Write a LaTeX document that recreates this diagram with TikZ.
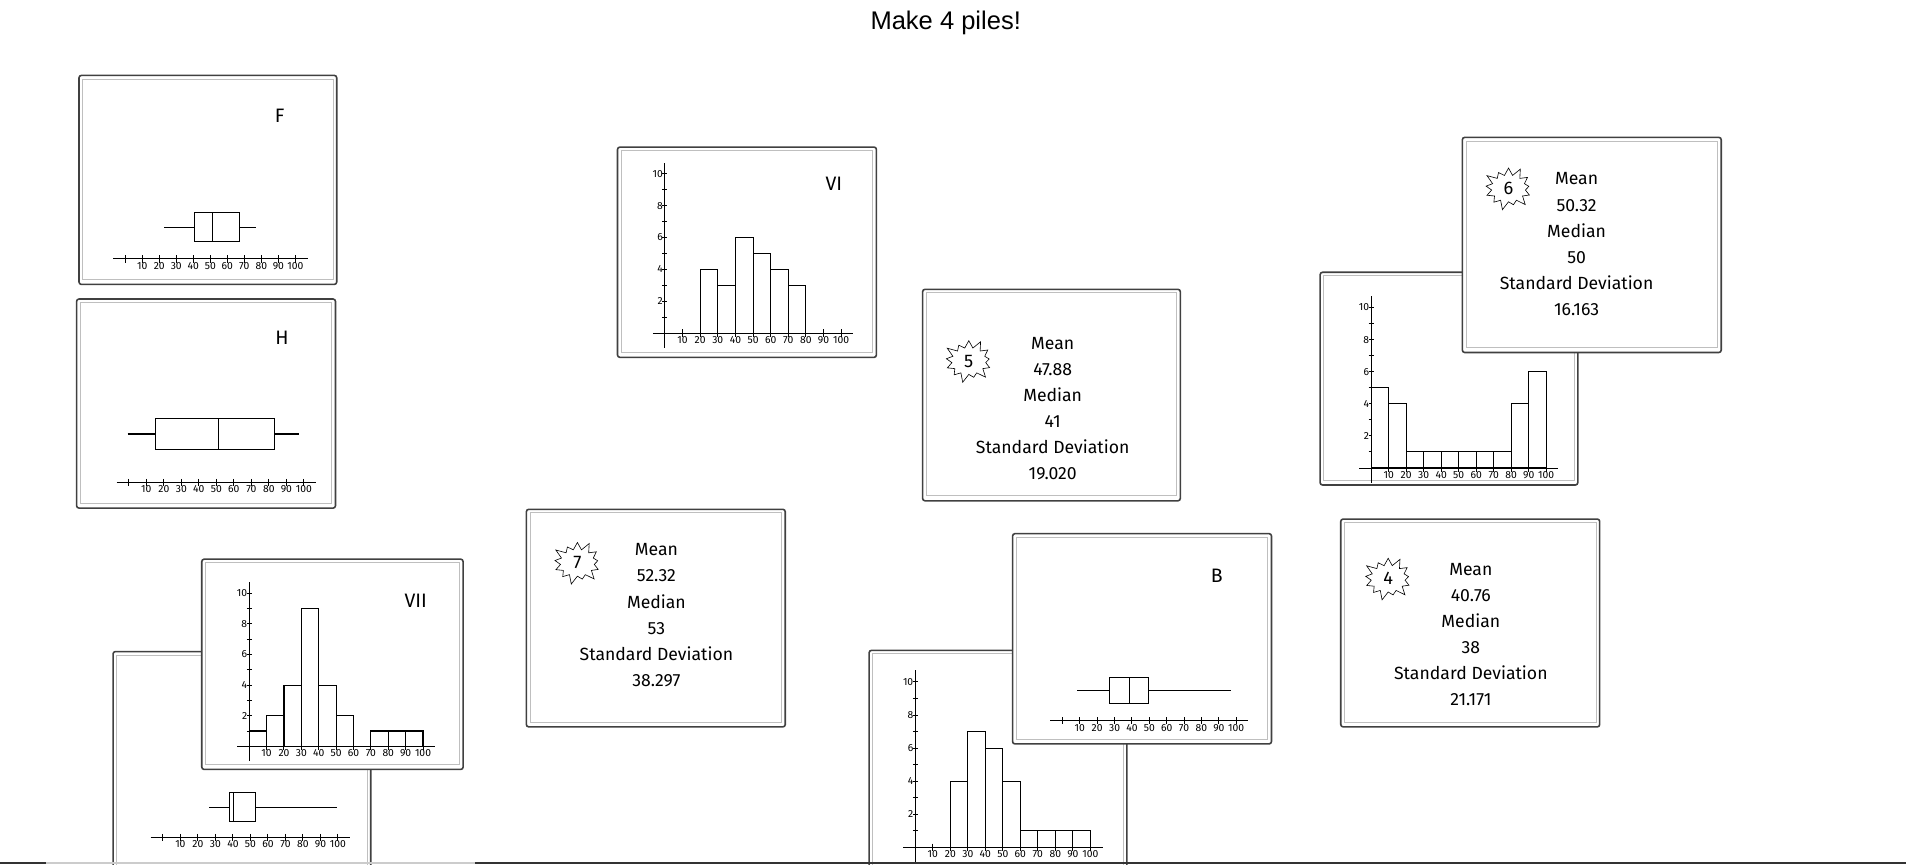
\documentclass[tikz,border=0pt]{standalone}
\usepackage{fontspec}
\setmainfont{Fira Sans}
\newfontfamily\titlefont{Liberation Sans}
\usetikzlibrary{shapes.symbols}
\tikzset{
  card/.style={draw=black!75,line width=1.3pt,rounded corners=2pt,fill=white},
  cardin/.style={draw=black!25,line width=0.8pt},
  lbl/.style={font=\fontsize{16}{16}\selectfont},
  stat/.style={font=\fontsize{14.5}{14.5}\selectfont,align=center,inner sep=0pt},
  tick/.style={font=\fontsize{8.5}{9}\selectfont,inner sep=0.5pt},
  ax/.style={line width=0.8pt},
  bar/.style={draw,line width=0.9pt,fill=white},
  star/.style={starburst,draw,line width=0.5pt,minimum width=44pt,minimum height=38pt,starburst points=13,starburst point height=8pt,font=\fontsize{15}{15}\selectfont,inner sep=0pt}
}
\newcommand\mycard[5]{\draw[card] (#2,#3) rectangle (#4,#5);
  \draw[cardin] (#2+3,#3+3) rectangle (#4-3,#5-4);
  \coordinate (#1) at (#2,#3);}
\newcommand\myxaxis[3]{\draw[ax] (#1-10,#2) -- (#1+10*#3+10,#2);
  \foreach \k in {0,...,10}{\draw[ax] (#1+\k*#3,#2-3) -- (#1+\k*#3,#2+3);}
  \foreach \k in {1,...,10}{\node[tick,anchor=north] at (#1+\k*#3,#2+2) {\pgfmathparse{int(\k*10)}\pgfmathresult};}}
\newcommand\myhist[5]{\myxaxis{#1}{#2}{#3}
  \draw[ax] (#1,#2+12) -- (#1,#2-10.7*#4);
  \foreach \k in {1,...,10}{\draw[ax] (#1-2,#2-\k*#4) -- (#1+2,#2-\k*#4);}
  \foreach \k in {2,4,...,10}{\node[tick,anchor=east] at (#1-1,#2-\k*#4) {\k};}
  \foreach \c [count=\i from 0] in {#5}{\ifnum\c>0 \draw[bar] (#1+\i*#3,#2) rectangle (#1+\i*#3+#3,#2-\c*#4);\fi}}
\newcommand\mybox[7]{\draw[line width=0.9pt] (#1,#6) -- (#2,#6) (#4,#6) -- (#5,#6);
  \draw[line width=0.9pt] (#2,#6-#7) rectangle (#4,#6+#7) (#3,#6-#7) -- (#3,#6+#7);}
\begin{document}
\begin{tikzpicture}[x=1pt,y=-1pt]
\useasboundingbox (0,0) rectangle (1568,711);
\node[font=\titlefont\fontsize{21}{21}\selectfont] (title) at (778,19) {Make 4 piles!};
\mycard{cF}{65}{62}{277}{234}
\node[lbl] (F) at (230,95) {F};
\myxaxis{103}{213}{14}
\mybox{135}{160}{175}{197}{211}{187}{12}
\mycard{cH}{63}{246}{276}{418}
\node[lbl] (H) at (232,278) {H};
\myxaxis{106}{397}{14.4}
\mybox{105}{128}{180}{226}{246}{357}{13}
\mycard{cVI}{508}{121}{721}{294}
\node[lbl] (VI) at (686,151) {VI};
\myhist{547}{274}{14.5}{13.1}{0,0,4,3,6,5,4,3,0,0}
\mycard{c5}{759}{238}{971}{412}
\node[star] (s5) at (797,297) {5};
\node[stat,anchor=north] (t5) at (866,277) {Mean\\[7pt]47.88\\[7pt]Median\\[7pt]41\\[7pt]Standard Deviation\\[7pt]19.020};
\mycard{ch6}{1086}{224}{1298}{399}
\myhist{1128}{385}{14.4}{13.2}{5,4,1,1,1,1,1,1,4,6}
\mycard{c6}{1203}{113}{1416}{290}
\node[star] (s6) at (1241,155) {6};
\node[stat,anchor=north] (t6) at (1297,142) {Mean\\[7pt]50.32\\[7pt]Median\\[7pt]50\\[7pt]Standard Deviation\\[7pt]16.163};
\mycard{c7}{433}{419}{646}{598}
\node[star] (s7) at (475,463) {7};
\node[stat,anchor=north] (t7) at (540,447) {Mean\\[7pt]52.32\\[7pt]Median\\[7pt]53\\[7pt]Standard Deviation\\[7pt]38.297};
\mycard{c4}{1103}{427}{1316}{598}
\node[star] (s4) at (1142,476) {4};
\node[stat,anchor=north] (t4) at (1210,463) {Mean\\[7pt]40.76\\[7pt]Median\\[7pt]38\\[7pt]Standard Deviation\\[7pt]21.171};
\mycard{chB}{715}{535}{927}{718}
\myhist{753}{697}{14.4}{13.6}{0,0,4,7,6,4,1,1,1,1}
\mycard{cB}{833}{439}{1046}{612}
\node[lbl] (B) at (1001,474) {B};
\myxaxis{874}{593}{14.3}
\mybox{886}{913}{929}{945}{1013}{568}{11}
\mycard{chVII}{93}{536}{305}{718}
\myxaxis{134}{689}{14.4}
\mybox{172}{189}{192}{210}{277}{664}{12}
\mycard{cVII}{166}{460}{381}{633}
\node[lbl] (VII) at (342,494) {VII};
\myhist{205}{614}{14.3}{12.6}{1,2,4,9,4,2,0,1,1,1}
\draw[line width=2pt,black!80] (0,710) -- (38,710) (391,710) -- (1568,710);
\draw[line width=2pt,black!20] (38,710) -- (391,710);
\end{tikzpicture}
\end{document}
